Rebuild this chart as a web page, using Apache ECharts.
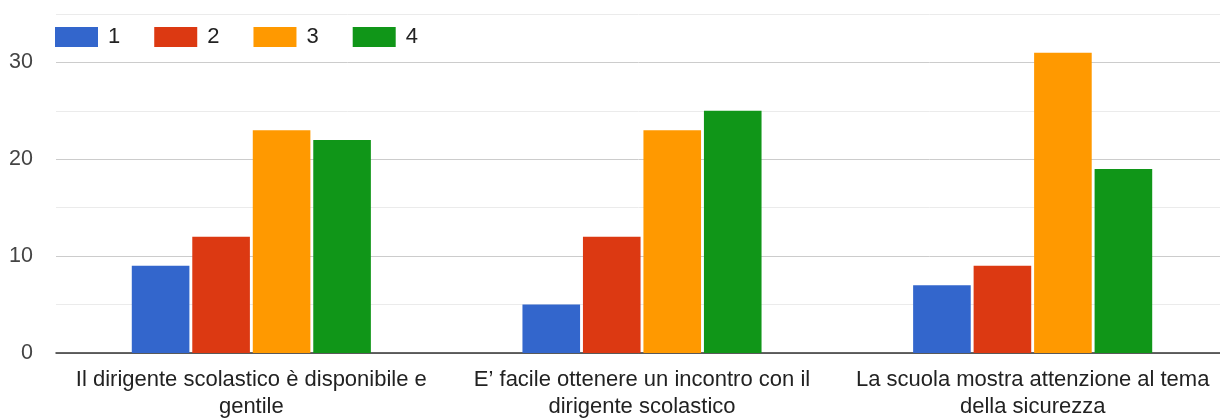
<!DOCTYPE html>
<html><head><meta charset="utf-8">
<script src="https://cdn.jsdelivr.net/npm/echarts@6/dist/echarts.min.js"></script>
<style>html,body{margin:0;padding:0;background:#fff;overflow:hidden}#c{width:1220px;height:418px}</style>
</head><body><div id="c"></div>
<script>
const categories = [
  'Il dirigente scolastico è disponibile e\ngentile',
  'E’ facile ottenere un incontro con il\ndirigente scolastico',
  'La scuola mostra attenzione al tema\ndella sicurezza'
];
const seriesNames = ['1', '2', '3', '4'];
const s1 = [9, 5, 7];
const s2 = [12, 12, 9];
const s3 = [23, 23, 31];
const s4 = [22, 25, 19];
const colors = ['#3366cc', '#dc3912', '#ff9900', '#109618'];
const values = [s1, s2, s3, s4];

const chart = echarts.init(document.getElementById('c'));
chart.setOption({
  animation: false,
  textStyle: { fontFamily: 'Liberation Sans, Arial, sans-serif' },
  legend: {
    left: 50, top: 21, itemWidth: 43, itemHeight: 20, itemGap: 34,
    icon: 'rect',
    textStyle: { fontSize: 22, color: '#222', padding: [0, 0, 0, 5] },
    data: seriesNames
  },
  grid: { left: 56, width: 1172, top: 14, height: 339, containLabel: false, outerBoundsMode: 'none' },
  xAxis: {
    type: 'category', data: categories,
    axisTick: { show: false },
    axisLine: { lineStyle: { color: '#333', width: 1.5 } },
    axisLabel: { fontSize: 22, color: '#222', lineHeight: 27, margin: 13, interval: 0 }
  },
  yAxis: {
    type: 'value', min: 0, max: 35, interval: 5,
    axisLine: { show: false }, axisTick: { show: false },
    axisLabel: { fontSize: 21.5, color: '#444', margin: 23,
      formatter: v => (v % 10 === 0 ? String(v) : '') },
    splitLine: { lineStyle: { color: ['#cccccc', '#ebebeb'], width: 1 } }
  },
  series: seriesNames.map((n, i) => ({
    name: n, type: 'bar', data: values[i],
    barGap: '5%', barCategoryGap: '38.8%',
    itemStyle: { color: colors[i] }
  }))
});
</script></body></html>
